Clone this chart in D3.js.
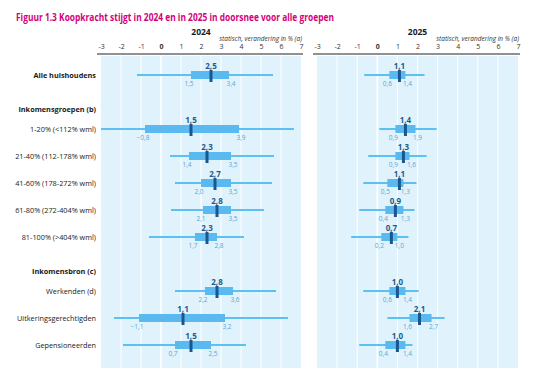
<!DOCTYPE html>
<html>
<head>
<meta charset="utf-8">
<script src="https://cdn.jsdelivr.net/npm/d3@7"></script>
<style>
  body { margin: 0; background: #fff; }
  text { font-family: "Open Sans", "Noto Sans", sans-serif; }
</style>
</head>
<body>
<div id="chart"></div>
<script>
// Row labels (headers have no data)
const rows = [
  {label: "Alle huishoudens", bold: true, slot: 0},
  {label: "Inkomensgroepen (b)", bold: true, header: true, slot: 2},
  {label: "1-20% (<112% wml)", slot: 2},
  {label: "21-40% (112-178% wml)", slot: 3},
  {label: "41-60% (178-272% wml)", slot: 4},
  {label: "61-80% (272-404% wml)", slot: 5},
  {label: "81-100% (>404% wml)", slot: 6},
  {label: "Inkomensbron (c)", bold: true, header: true, slot: 8},
  {label: "Werkenden (d)", slot: 8},
  {label: "Uitkeringsgerechtigden", slot: 9},
  {label: "Gepensioneerden", slot: 10}
];
const dataRows = rows.filter(r => !r.header);

// 2024: median, box low/high, whisker low/high
const median2024 = [2.5, 1.5, 2.3, 2.7, 2.8, 2.3, 2.8, 1.1, 1.5];
const boxLow2024 = [1.5, -0.8, 1.4, 2.0, 2.1, 1.7, 2.2, -1.1, 0.7];
const boxHigh2024 = [3.4, 3.9, 3.5, 3.5, 3.5, 2.8, 3.6, 3.2, 2.5];
const whiskLow2024 = [-1.2, -3.0, 0.45, 0.7, 0.5, -0.6, 0.7, -2.35, -1.9];
const whiskHigh2024 = [5.6, 6.65, 5.65, 5.55, 5.15, 4.15, 5.75, 6.35, 4.25];

// 2025
const median2025 = [1.1, 1.4, 1.3, 1.1, 0.9, 0.7, 1.0, 2.1, 1.0];
const boxLow2025 = [0.6, 0.9, 0.9, 0.5, 0.4, 0.2, 0.6, 1.6, 0.4];
const boxHigh2025 = [1.4, 1.9, 1.6, 1.3, 1.3, 1.0, 1.4, 2.7, 1.4];
const whiskLow2025 = [-0.65, 0.1, -0.45, -0.7, -0.9, -1.3, -0.7, 0.5, -0.9];
const whiskHigh2025 = [2.35, 2.95, 2.45, 1.95, 1.85, 1.55, 2.05, 3.35, 1.75];

const ticks = [-3, -2, -1, 0, 1, 2, 3, 4, 5, 6, 7];

const width = 555, height = 368;
const svg = d3.select("#chart").append("svg")
  .attr("width", width)
  .attr("height", height);

const fmt = v => d3.format(".1f")(v).replace(".", ",");

const yScale = d3.scaleLinear().domain([0, 10]).range([75, 345]);
const axisY = 54, bgTop = 56;

// Title
svg.append("text")
  .attr("x", 16).attr("y", 21)
  .attr("fill", "#d4007a")
  .attr("font-weight", "bold")
  .attr("font-size", 11)
  .attr("textLength", 318)
  .attr("lengthAdjust", "spacingAndGlyphs")
  .text("Figuur 1.3 Koopkracht stijgt in 2024 en in 2025 in doorsnee voor alle groepen");

// Row labels
svg.selectAll(".rowlabel")
  .data(rows)
  .enter().append("text")
  .attr("class", "rowlabel")
  .attr("x", 96)
  .attr("y", d => (d.header ? yScale(d.slot) - 20 : yScale(d.slot)) + 3)
  .attr("text-anchor", "end")
  .attr("font-size", 7.3)
  .attr("font-weight", d => d.bold ? "bold" : "normal")
  .attr("fill", "#1a1a1a")
  .text(d => d.label);

function panel(year, x0, x1, med, bLo, bHi, wLo, wHi) {
  const xScale = d3.scaleLinear().domain([-3, 7]).range([x0, x1]);
  const g = svg.append("g");

  // background
  g.append("rect")
    .attr("x", x0).attr("y", bgTop)
    .attr("width", x1 - x0).attr("height", height - bgTop)
    .attr("fill", "#e0f3fc");

  // gridlines
  g.selectAll(".grid")
    .data(ticks.slice(1, -1))
    .enter().append("line")
    .attr("x1", d => xScale(d)).attr("x2", d => xScale(d))
    .attr("y1", bgTop).attr("y2", height)
    .attr("stroke", "#fff")
    .attr("stroke-width", d => d === 0 ? 1.6 : 1);

  // axis
  const axis = g.append("g")
    .attr("transform", `translate(0,${axisY})`)
    .call(d3.axisTop(xScale).tickValues(ticks).tickSize(0).tickPadding(5)
      .tickFormat(d => d < 0 ? "-" + Math.abs(d) : d));
  axis.select(".domain").attr("stroke", "#222").attr("stroke-width", 1)
    .attr("d", `M${x0 - 4},0H${x1 + 2}`);
  axis.selectAll("text")
    .attr("font-size", 7)
    .attr("fill", "#333")
    .attr("font-family", "\"Open Sans\", sans-serif")
    .attr("font-weight", d => d === 0 ? "bold" : "normal");

  // year + caption
  g.append("text")
    .attr("x", (x0 + x1) / 2).attr("y", 35)
    .attr("text-anchor", "middle")
    .attr("font-size", 8.5).attr("font-weight", "bold")
    .attr("fill", "#1a1a1a")
    .text(year);
  g.append("text")
    .attr("x", x1 + 1).attr("y", 41)
    .attr("text-anchor", "end")
    .attr("font-size", 6.5).attr("font-style", "italic")
    .attr("fill", "#333")
    .text("statisch, verandering in % (a)");

  const items = g.selectAll(".item")
    .data(dataRows.map((r, i) => ({
      slot: r.slot, med: med[i], lo: bLo[i], hi: bHi[i], wlo: wLo[i], whi: wHi[i]
    })))
    .enter().append("g")
    .attr("transform", d => `translate(0,${yScale(d.slot)})`);

  // whisker
  items.append("line")
    .attr("x1", d => xScale(d.wlo)).attr("x2", d => xScale(d.whi))
    .attr("y1", 0).attr("y2", 0)
    .attr("stroke", "#5cc1f2").attr("stroke-width", 2);

  // box
  items.append("rect")
    .attr("x", d => xScale(d.lo))
    .attr("width", d => xScale(d.hi) - xScale(d.lo))
    .attr("y", -4).attr("height", 8)
    .attr("fill", "#5ab9ef");

  // median
  items.append("rect")
    .attr("x", d => xScale(d.med) - 1.5)
    .attr("width", 3)
    .attr("y", -5).attr("height", 12)
    .attr("fill", "#1a5690");

  items.append("text")
    .attr("x", d => xScale(d.med))
    .attr("y", -6)
    .attr("text-anchor", "middle")
    .attr("font-size", 8).attr("font-weight", "bold")
    .attr("fill", "#1e5a8e")
    .text(d => fmt(d.med));

  // box edge labels
  items.append("text")
    .attr("x", d => xScale(d.lo) - 2)
    .attr("y", 10.5)
    .attr("text-anchor", "middle")
    .attr("font-size", 6.5)
    .attr("fill", "#55a7d9")
    .text(d => fmt(d.lo));
  items.append("text")
    .attr("x", d => xScale(d.hi) + 2)
    .attr("y", 10.5)
    .attr("text-anchor", "middle")
    .attr("font-size", 6.5)
    .attr("fill", "#55a7d9")
    .text(d => fmt(d.hi));
}

panel("2024", 101, 301, median2024, boxLow2024, boxHigh2024, whiskLow2024, whiskHigh2024);
panel("2025", 317, 518, median2025, boxLow2025, boxHigh2025, whiskLow2025, whiskHigh2025);
</script>
</body>
</html>
